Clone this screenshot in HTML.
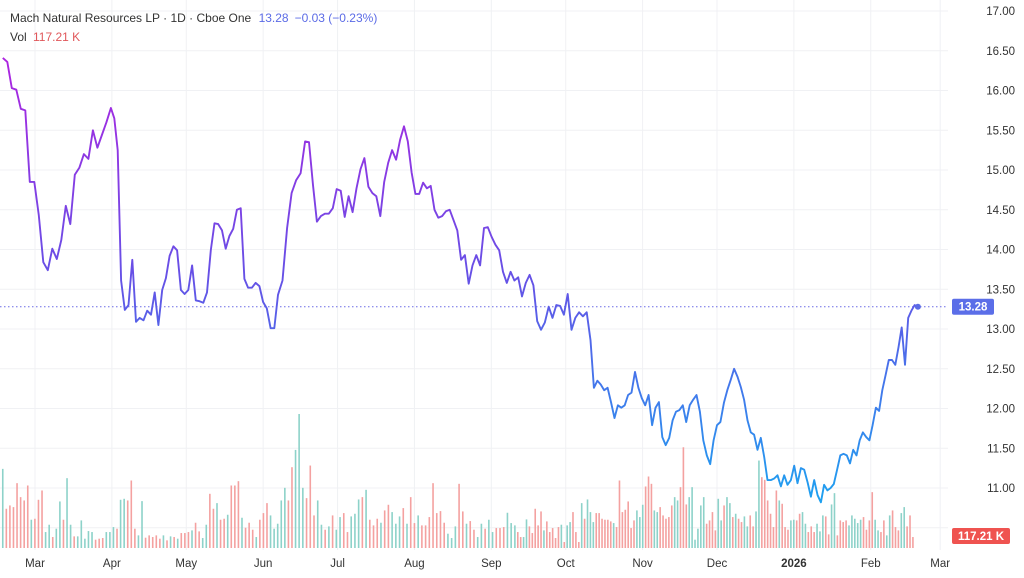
<!DOCTYPE html>
<html><head><meta charset="utf-8"><style>
html,body{margin:0;padding:0;background:#fff}
svg{display:block;font-family:"Liberation Sans",sans-serif}
</style></head><body>
<svg id="chart" width="1024" height="578" viewBox="0 0 1024 578">
<defs>
<linearGradient id="lineGrad" gradientUnits="userSpaceOnUse" x1="0" y1="50" x2="0" y2="500">
<stop offset="0" stop-color="#b022e0"/><stop offset="0.5" stop-color="#6650e6"/><stop offset="1" stop-color="#1ea0f0"/>
</linearGradient>
</defs>
<g id="grid"></g>
<g id="vol"></g>
<g id="price"></g>
<g id="axes"></g>
<text x="10" y="22" font-size="12" fill="#333">Mach Natural Resources LP · 1D · Cboe One <tspan fill="#5b6be6" dx="4">13.28</tspan><tspan fill="#5b6be6" dx="6">−0.03 (−0.23%)</tspan></text>
<text x="10" y="41" font-size="12" fill="#333">Vol <tspan fill="#e0575a" dx="3">117.21 K</tspan></text>
</svg>
<script>
const prices=[16.41,16.36,16.03,16.01,15.77,15.75,14.85,14.85,14.43,13.84,13.74,14.01,13.88,14.12,14.55,14.32,14.94,15.03,15.20,15.14,15.50,15.28,15.44,15.60,15.78,15.65,15.25,13.61,13.24,13.30,13.87,13.09,13.14,13.11,13.23,13.18,13.46,13.05,13.49,13.64,13.92,14.04,13.99,13.49,13.44,13.49,13.80,13.36,13.35,13.33,13.46,13.99,14.33,14.32,14.24,14.01,14.17,14.26,14.50,14.52,13.63,13.52,13.52,13.58,13.54,13.34,13.26,13.01,13.01,
13.43,13.61,14.27,14.71,14.87,14.96,15.36,15.35,14.81,14.35,14.42,14.45,14.45,14.52,14.76,14.74,14.41,14.67,14.47,14.77,15.01,15.15,14.79,14.71,14.67,14.42,14.85,15.09,15.25,15.13,15.38,15.55,15.36,14.97,14.70,14.70,14.84,14.77,14.80,14.50,14.40,14.42,14.48,14.50,14.37,14.24,13.87,13.93,13.57,13.80,13.93,13.80,14.27,14.28,14.16,14.06,13.99,13.72,13.58,13.72,13.61,13.65,13.41,13.58,13.68,13.55,13.10,12.99,13.08,13.28,13.14,13.30,13.29,13.18,13.44,12.99,13.14,13.21,13.16,13.21,
12.86,12.26,12.35,12.30,12.23,12.26,12.08,11.88,12.04,12.01,12.04,12.17,12.20,12.46,12.26,12.13,12.04,12.17,11.79,12.01,12.08,11.64,11.54,11.63,11.85,11.96,11.98,12.04,11.83,12.04,12.11,12.17,11.96,11.60,11.41,11.30,11.60,11.79,11.83,12.07,12.23,12.36,12.50,12.40,12.27,12.11,11.85,11.70,11.67,11.48,11.63,11.39,11.10,11.10,11.12,11.16,11.02,11.16,11.04,11.10,11.28,11.06,11.25,11.23,11.07,10.89,11.10,10.91,10.82,11.04,10.97,11.00,11.05,11.23,11.41,11.43,11.41,11.31,11.48,11.41,11.60,11.70,11.64,11.60,11.79,12.01,11.97,12.23,12.42,12.61,12.61,12.55,12.77,13.02,12.55,13.14,13.23,13.30,13.28];
const indexAnchors=[0,24,27,69,75,100,149,191,217,247];
const dayAnchors=[-13,30.6,34.7,98,108.9,148.8,224,281.9,316.9,356];
const volumes=[238,118,128,123,195,153,143,188,85,88,145,173,48,70,33,58,140,85,210,70,35,35,83,28,51,48,25,28,30,48,48,63,58,145,148,143,203,58,38,141,31,38,33,38,28,38,23,35,33,28,45,45,48,53,76,50,30,70,163,118,135,85,88,100,188,188,201,91,61,76,55,33,85,105,135,98,58,73,143,181,143,243,295,403,181,150,248,98,143,70,55,65,98,55,93,105,48,95,103,146,153,175,85,68,88,76,113,130,108,73,95,120,73,153,75,98,68,68,93,195,105,111,76,43,30,65,193,110,73,81,55,33,73,58,85,48,60,60,63,106,75,68,48,33,
33,86,65,45,118,68,110,53,80,48,60,30,63,70,18,68,78,108,48,18,135,88,146,108,78,105,105,88,85,85,80,75,63,203,108,115,140,60,83,113,93,130,185,215,193,113,108,123,98,88,93,128,153,143,183,303,131,153,183,25,58,128,153,73,83,108,53,148,83,128,153,135,93,103,88,78,95,65,98,65,110,263,213,205,143,103,63,173,143,133,63,55,83,85,83,103,108,73,48,65,48,73,50,98,95,41,131,165,38,83,78,83,68,98,88,75,85,93,55,83,168,85,53,48,83,38,98,113,63,53,105,123,65,98,33];
const volUp="gruuuuuuguuugguggugguggggguuugggugguuugguuuuuguguguuuguugguuguuguuuguuuguuuggggguuggguuuggugugguuggguguuuguuggguguuguuuuuuuggguuguuggugguuuggguugguuuuuguuuuugugguuuguggguuuuuuguuuuuuuggguuugguuuuugguuugggggguuuuggugguguugguugguuuuuuguuugguugguuuggguugguuuuggggguuuugguugguuugguuugguuuuguuugguuugguuu";
const volDayAnchors=[-13,106.5,193.5,354];
const yTicks=[17,16.5,16,15.5,15,14.5,14,13.5,13,12.5,12,11.5,11,10.5];
const monthLabels=["Mar","Apr","May","Jun","Jul","Aug","Sep","Oct","Nov","Dec","2026","Feb","Mar"];
const monthDays=[0,31,61,92,122,153,184,214,245,275,306,337,365];
const volIndexAnchors=[0,83,141,volumes.length-1];
const NS="http://www.w3.org/2000/svg";
function el(t,a,p){const e=document.createElementNS(NS,t);for(const k in a)e.setAttribute(k,a[k]);p.appendChild(e);return e;}
const yScale=p=>11+(17-p)*79.5;
const xDay=d=>35+d*2.48;
function interp(i,ia,da){for(let k=0;k<ia.length-1;k++){const a=ia[k],b=ia[k+1];if(i<=b||k===ia.length-2){return da[k]+(i-a)/(b-a)*(da[k+1]-da[k]);}}}
const grid=document.getElementById('grid'),axes=document.getElementById('axes');
yTicks.forEach(t=>{const y=yScale(t);
const l=el('line',{x1:0,x2:948,y1:y,y2:y,stroke:'#f0f1f4','stroke-width':1},grid);


if(t>10.5){const tx=el('text',{x:1015,y:y+4,'font-size':11.5,fill:'#333','text-anchor':'end'},axes);tx.textContent=t.toFixed(2);

}});
monthDays.forEach((d,i)=>{const x=xDay(d);
const l=el('line',{x1:x,x2:x,y1:0,y2:550,stroke:'#f0f1f4','stroke-width':1},grid);


const tx=el('text',{x:x,y:567,'font-size':11.5,fill:'#333','text-anchor':'middle','font-weight':monthLabels[i]==='2026'?'bold':'normal'},axes);tx.textContent=monthLabels[i];

});
const vg=document.getElementById('vol');const vMax=403,vH=134,base=548;
volumes.forEach((v,i)=>{const h=v/vMax*vH;const x=xDay(interp(i,volIndexAnchors,volDayAnchors));
const r=el('rect',{x:x-0.8,y:base-h,width:1.6,height:h,fill:volUp[i]==='g'?'#8dd2c9':'#f4a1a0'},vg);

});
const pg=document.getElementById('price');
const pts=prices.map((p,i)=>xDay(interp(i,indexAnchors,dayAnchors)).toFixed(1)+','+yScale(p).toFixed(1)).join(' ');
const last=prices[prices.length-1];const ly=yScale(last);
const dl=el('line',{x1:0,x2:948,y1:ly,y2:ly,stroke:'#6b6be6','stroke-width':1,'stroke-dasharray':'1.5 2.5'},pg);


const pl=el('polyline',{points:pts,fill:'none',stroke:'url(#lineGrad)','stroke-width':1.9,'stroke-linejoin':'round'},pg);


const lx=xDay(interp(prices.length-1,indexAnchors,dayAnchors));
const dot=el('circle',{cx:lx,cy:ly,r:3,fill:'#5b6be6'},pg);


const pb=el('rect',{x:952,y:ly-8,width:42,height:16,rx:2,fill:'#5b6ee8'},axes);


const pt=el('text',{x:973,y:ly+4,'font-size':11.5,fill:'#fff','text-anchor':'middle','font-weight':'bold'},axes);pt.textContent=last.toFixed(2);


const vb=el('rect',{x:952,y:528,width:58,height:16,rx:2,fill:'#ef5350'},axes);


const vt=el('text',{x:981,y:540,'font-size':11.5,fill:'#fff','text-anchor':'middle','font-weight':'bold'},axes);vt.textContent='117.21 K';


</script>
</body></html>
